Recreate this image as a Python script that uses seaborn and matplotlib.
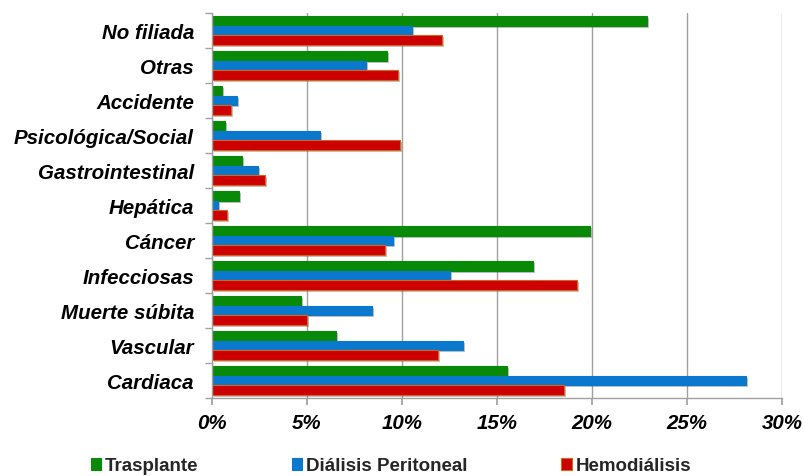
import matplotlib
matplotlib.use("Agg")
import matplotlib.pyplot as plt
import matplotlib.patheffects as pe
from matplotlib.patches import Patch
from matplotlib.ticker import FuncFormatter, FixedLocator
import seaborn as sns
import pandas as pd

categorias = ["No filiada", "Otras", "Accidente", "Psicológica/Social",
              "Gastrointestinal", "Hepática", "Cáncer", "Infecciosas",
              "Muerte súbita", "Vascular", "Cardiaca"]
series = ["Trasplante", "Diálisis Peritoneal", "Hemodiálisis"]
trasplante = [22.9, 9.2, 0.5, 0.7, 1.6, 1.4, 19.9, 16.9, 4.7, 6.5, 15.5]
dialisis_peritoneal = [10.5, 8.1, 1.3, 5.7, 2.4, 0.3, 9.5, 12.5, 8.4, 13.2, 28.1]
hemodialisis = [12.1, 9.8, 1.0, 9.9, 2.8, 0.8, 9.1, 19.2, 5.0, 11.9, 18.5]
colores = ["#088A08", "#0A78CC", "#CC0000"]
bordes = ["#088A08", "#0A78CC", "#D8641A"]
ticks_x = [0, 5, 10, 15, 20, 25, 30]

df = pd.DataFrame({
    "causa": categorias * 3,
    "serie": [series[0]] * len(categorias) + [series[1]] * len(categorias)
             + [series[2]] * len(categorias),
    "valor": trasplante + dialisis_peritoneal + hemodialisis,
})

sns.set_theme(style="white")
plt.rcParams["font.family"] = ["Liberation Sans", "DejaVu Sans"]

fig = plt.figure(figsize=(8.05, 4.77), dpi=100)
ax = fig.add_axes([212 / 805, 1 - 399 / 477, 570 / 805, 385 / 477])

sns.barplot(data=df, y="causa", x="valor", hue="serie", order=categorias,
            hue_order=series, palette=colores, orient="h", width=0.84,
            saturation=1, ax=ax, legend=False)

sombra = [pe.SimplePatchShadow(offset=(1.5, -1.5), alpha=0.35, shadow_rgbFace="#555555"),
          pe.Normal()]
n = len(categorias)
for i, barra in enumerate(ax.patches):
    k = i // n
    barra.set_edgecolor(bordes[k])
    barra.set_linewidth(0.8)
    barra.set_path_effects(sombra)

ax.set_xlim(0, 30)
ax.set_ylim(n - 0.5, -0.5)
ax.set_xticks(ticks_x)
ax.xaxis.set_major_formatter(FuncFormatter(lambda v, p: f"{v:.0f}%"))
ax.grid(axis="x", color="#A0A0A0", linewidth=1.0)
ax.set_axisbelow(True)
ax.set_xlabel("")
ax.set_ylabel("")

for s in ["top", "right"]:
    ax.spines[s].set_visible(False)
for s in ["left", "bottom"]:
    ax.spines[s].set_color("#A0A0A0")
    ax.spines[s].set_linewidth(1.0)

ax.tick_params(axis="x", which="major", bottom=True, length=5, color="#A0A0A0",
               pad=6, labelsize=14.8)
ax.tick_params(axis="y", which="major", left=False, length=0, pad=13, labelsize=14.8)
ax.yaxis.set_minor_locator(FixedLocator([i - 0.5 for i in range(n + 1)]))
ax.tick_params(axis="y", which="minor", left=True, length=5, color="#A0A0A0", width=1.0)

for t in ax.get_xticklabels() + ax.get_yticklabels():
    t.set_fontweight("bold")
    t.set_fontstyle("italic")
    t.set_color("black")

manejadores = [Patch(facecolor=c, edgecolor=b, linewidth=0.8) for c, b in zip(colores, bordes)]
fig.legend(manejadores, series, loc="center", bbox_to_anchor=(391 / 805, 1 - 467 / 477),
           ncol=3, frameon=False, handlelength=0.55, handleheight=0.55,
           handletextpad=0.2, columnspacing=5.0,
           prop={"weight": "bold", "size": 13.5})

fig.savefig("out.png", dpi=100)
